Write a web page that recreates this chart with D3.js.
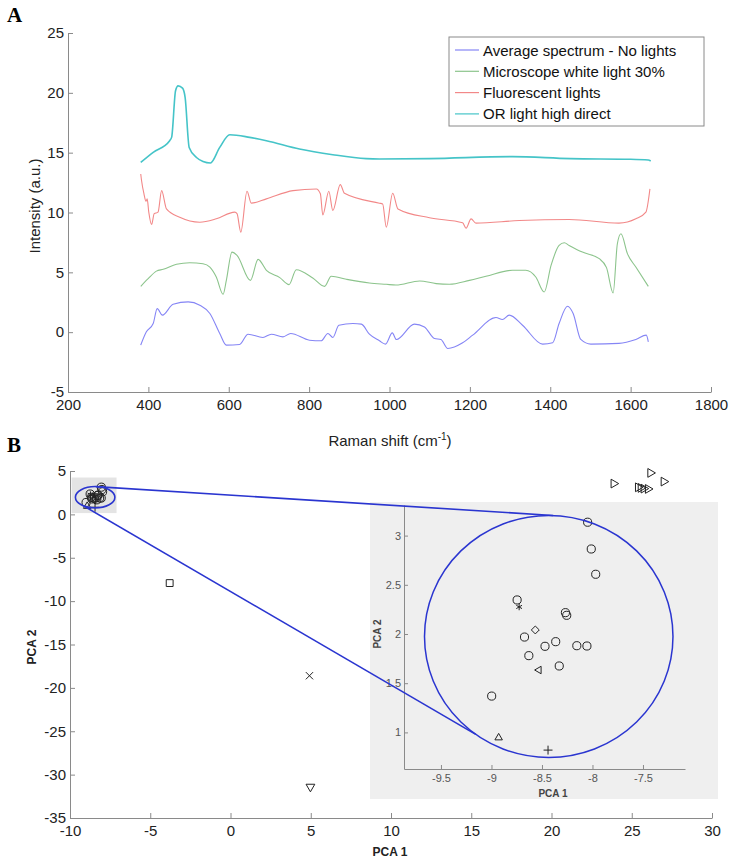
<!DOCTYPE html>
<html>
<head>
<meta charset="utf-8">
<script src="https://cdn.jsdelivr.net/npm/d3@7"></script>
<style>
  body { margin: 0; background: #fff; }
  text { font-family: "Liberation Sans", Arial, sans-serif; }
  .axis path, .axis line { stroke: #8a8a8a; }
  .axis text { fill: #222; font-size: 15px; }
  .inset-axis path, .inset-axis line { stroke: #8a8a8a; }
  .inset-axis text { fill: #555; font-size: 11px; }
</style>
</head>
<body>
<div id="chart"></div>
<script>
// spectra, [Raman shift, intensity]
const noLights = [[381,-1.08],[395,0.03],[412,0.72],[422,1.97],[435,1.42],[461.6,2.33],[499,2.53],[528,2.25],[553,1.56],[577.6,-0.11],[594,-1.08],[627,-1.03],[648,-0.17],[685,-0.44],[706,-0.17],[735,-0.39],[754,-0.11],[801,-0.67],[830,-0.72],[846.7,-0.11],[859,-0.44],[874,0.58],[909,0.72],[930,0.67],[950,-0.17],[975,-0.72],[990,-1.0],[1007,-0.06],[1017,-0.61],[1062,0.67],[1087,0.44],[1112,-0.53],[1128,-0.61],[1145,-1.36],[1182,-0.89],[1207,-0.25],[1265,1.22],[1281,1.06],[1298,1.42],[1331,0.58],[1381,-1.0],[1406,-0.89],[1422,0.72],[1443,2.17],[1457,1.56],[1476,-0.61],[1501,-1.0],[1571,-0.94],[1613,-0.61],[1639,-0.25],[1644,-0.81]]
const whiteLight30 = [[381,3.83],[399.5,4.47],[420,5.1],[437,5.25],[470,5.67],[503,5.8],[536,5.72],[553,5.44],[569,4.61],[586,3.17],[594,4.33],[608,6.69],[620.6,6.42],[654,4.33],[673,6.08],[693.7,5.17],[727,4.56],[750,3.97],[768,5.22],[809,4.53],[838.5,3.83],[855,4.67],[892.5,4.42],[950,4.11],[992,4.0],[1016,3.94],[1075,4.28],[1116,4.06],[1149,4.0],[1199,4.33],[1240,4.67],[1306,5.17],[1339,5.17],[1364,4.61],[1385,3.36],[1402,5.58],[1422,7.25],[1435,7.47],[1447,7.25],[1480,6.69],[1522,6.14],[1540,5.39],[1556.5,3.28],[1567,7.39],[1576,8.22],[1592,6.56],[1613,5.44],[1644,3.83]]
const fluorescent = [[381,13.22],[383,12.67],[389,11.56],[394,10.94],[397,11.14],[401,10.03],[408,9.0],[414.5,9.9],[424,10.03],[433,11.83],[445,10.3],[478,9.6],[528,9.19],[569,9.47],[615,10.03],[620.6,9.9],[630,8.36],[645.5,11.78],[656,10.78],[693.7,11.14],[760,11.83],[818,11.97],[828,11.56],[834,9.8],[849,11.78],[859,10.17],[877.5,12.33],[888,11.6],[975,10.78],[983,10.72],[992,8.78],[1008,11.61],[1021,10.3],[1099.5,9.56],[1182,9.14],[1190.5,8.69],[1203,9.47],[1215,9.11],[1323,9.33],[1447,9.42],[1571,9.11],[1613,9.47],[1638,10.03],[1648,11.97]]
const orLightHigh = [[381,14.19],[412,15.03],[453,16.0],[458,16.3],[467.6,20.17],[474,20.58],[485,20.39],[491.5,19.6],[501.5,15.44],[519.7,14.6],[536,14.27],[554.5,14.14],[577.6,15.44],[602.5,16.5],[652,16.28],[693.7,16.0],[776,15.3],[859,14.83],[942,14.5],[975,14.47],[1100,14.5],[1306,14.67],[1450,14.5],[1600,14.45],[1644,14.39],[1650,14.3]]

const seriesNames = ['Average spectrum - No lights', 'Microscope white light 30%', 'Fluorescent lights', 'OR light high direct']
const seriesColors = ['#8585f5', '#8cc48c', '#f28888', '#45c4c8']

const ramanTicks = [200, 400, 600, 800, 1000, 1200, 1400, 1600, 1800]
const intensityTicks = [-5, 0, 5, 10, 15, 20, 25]

// PCA scores, [PCA 1, PCA 2]
const circlePts = [[-8.048,3.136],[-8.012,2.864],[-7.968,2.607],[-8.746,2.346],[-8.268,2.217],[-8.255,2.19],[-8.673,1.969],[-8.47,1.875],[-8.364,1.922],[-8.155,1.881],[-8.055,1.878],[-8.63,1.78],[-8.329,1.675],[-8.998,1.369]]
const asteriskPts = [[-8.726,2.275]]
const diamondPts = [[-8.566,2.041]]
const leftTriPts = [[-8.53,1.634]]
const upTriPts = [[-8.929,0.946]]
const plusPts = [[-8.44,0.82]]
const squarePts = [[-3.79,-7.92]]
const crossPts = [[4.92,-18.6]]
const downTriPts = [[4.98,-31.4]]
const rightTriPts = [[23.87,3.55],[26.16,4.78],[26.99,3.78],[25.39,3.12],[25.56,3.05],[25.74,2.97],[26.01,2.93]]

const pca1Ticks = [-10, -5, 0, 5, 10, 15, 20, 25, 30]
const pca2Ticks = [-35, -30, -25, -20, -15, -10, -5, 0, 5]
const insetXTicks = [-9.5, -9, -8.5, -8, -7.5]
const insetYTicks = [1, 1.5, 2, 2.5, 3]

// zoom region and ring (data units)
const zoomBox = { x0: -9.9, x1: -7.1, y0: 0.15, y1: 4.25 }
const ring = { cx: -8.433, cy: 1.975, r: 1.23 }
const insetX = [-9.866, -7.084]
const insetY = [0.628, 3.311]

function draw() {
    const width = 734
    const height = 867
    const plain = d => String(d)

    const svg = d3.select('#chart')
        .append('svg')
        .attr('width', width)
        .attr('height', height)

    // panel letters
    svg.append('text').attr('x', 7).attr('y', 22)
        .style('font-family', '"Liberation Serif", serif').style('font-weight', 'bold').style('font-size', '21px')
        .text('A')
    svg.append('text').attr('x', 7).attr('y', 452)
        .style('font-family', '"Liberation Serif", serif').style('font-weight', 'bold').style('font-size', '21px')
        .text('B')

    // ---------------- A: spectra ----------------
    const xScale = d3.scaleLinear().domain([200, 1800]).range([68, 711])
    const yScale = d3.scaleLinear().domain([-5, 25]).range([392, 33])

    const xAxis = d3.axisBottom(xScale).tickValues(ramanTicks).tickFormat(plain)
        .tickSizeInner(-5).tickSizeOuter(0).tickPadding(7)
    svg.append('g').classed('axis', true)
        .attr('transform', `translate(0, ${yScale(-5)})`)
        .call(xAxis)

    const yAxis = d3.axisLeft(yScale).tickValues(intensityTicks).tickFormat(plain)
        .tickSizeInner(-5).tickSizeOuter(0).tickPadding(4)
    svg.append('g').classed('axis', true)
        .attr('transform', `translate(${xScale(200)}, 0)`)
        .call(yAxis)

    const line = d3.line()
        .x(d => xScale(d[0]))
        .y(d => yScale(d[1]))
        .curve(d3.curveMonotoneX)

    const spectra = [noLights, whiteLight30, fluorescent, orLightHigh]
    spectra.forEach((s, i) => {
        svg.append('path')
            .datum(s)
            .attr('d', line)
            .attr('fill', 'none')
            .attr('stroke', seriesColors[i])
            .attr('stroke-width', i === 3 ? 1.6 : 1.1)
    })

    const xLabel = svg.append('text')
        .attr('x', 390).attr('y', 446)
        .attr('text-anchor', 'middle')
        .style('font-size', '15px').attr('fill', '#222')
    xLabel.append('tspan').text('Raman shift (cm')
    xLabel.append('tspan').attr('dy', -6).style('font-size', '10px').text('-1')
    xLabel.append('tspan').attr('dy', 6).text(')')

    svg.append('text')
        .attr('transform', 'translate(40, 206) rotate(-90)')
        .attr('text-anchor', 'middle')
        .style('font-size', '15px').attr('fill', '#222')
        .text('Intensity (a.u.)')

    // legend
    const legend = svg.append('g')
    legend.append('rect')
        .attr('x', 449).attr('y', 37).attr('width', 255).attr('height', 89)
        .attr('fill', '#fff').attr('stroke', '#8a8a8a')
    seriesNames.forEach((name, i) => {
        const y = 50 + i * 21.3
        legend.append('line')
            .attr('x1', 455).attr('x2', 479).attr('y1', y).attr('y2', y)
            .attr('stroke', seriesColors[i]).attr('stroke-width', 1.2)
        legend.append('text')
            .attr('x', 483).attr('y', y + 5.5)
            .style('font-size', '15px').attr('fill', '#111')
            .text(name)
    })

    // ---------------- B: PCA ----------------
    const px = d3.scaleLinear().domain([-10, 30]).range([70, 712])
    const py = d3.scaleLinear().domain([-35, 5]).range([818, 471])

    svg.append('rect')
        .attr('x', px(zoomBox.x0)).attr('y', py(zoomBox.y1))
        .attr('width', px(zoomBox.x1) - px(zoomBox.x0))
        .attr('height', py(zoomBox.y0) - py(zoomBox.y1))
        .attr('fill', '#e4e4e4')

    svg.append('g').classed('axis', true)
        .attr('transform', `translate(0, ${py(-35)})`)
        .call(d3.axisBottom(px).tickValues(pca1Ticks).tickFormat(plain).tickSizeInner(-5).tickSizeOuter(0).tickPadding(7))
    svg.append('g').classed('axis', true)
        .attr('transform', `translate(${px(-10)}, 0)`)
        .call(d3.axisLeft(py).tickValues(pca2Ticks).tickFormat(plain).tickSizeInner(-5).tickSizeOuter(0).tickPadding(4))

    svg.append('text')
        .attr('x', 390).attr('y', 856).attr('text-anchor', 'middle')
        .style('font-size', '12px').style('font-weight', 'bold').attr('fill', '#222')
        .text('PCA 1')
    svg.append('text')
        .attr('transform', 'translate(36, 647) rotate(-90)').attr('text-anchor', 'middle')
        .style('font-size', '12px').style('font-weight', 'bold').attr('fill', '#222')
        .text('PCA 2')

    const tri = d3.symbolTriangle2 || d3.symbolTriangle
    const markerSets = [
        { pts: circlePts, type: d3.symbolCircle, size: 52, rot: 0 },
        { pts: asteriskPts, type: d3.symbolAsterisk || d3.symbolCross, size: 30, rot: 0 },
        { pts: diamondPts, type: d3.symbolDiamond2 || d3.symbolDiamond, size: 40, rot: 0 },
        { pts: leftTriPts, type: tri, size: 40, rot: -90 },
        { pts: upTriPts, type: tri, size: 40, rot: 0 },
        { pts: plusPts, type: d3.symbolPlus || d3.symbolCross, size: 28, rot: 0 },
        { pts: squarePts, type: d3.symbolSquare2 || d3.symbolSquare, size: 60, rot: 0 },
        { pts: crossPts, type: d3.symbolTimes || d3.symbolCross, size: 36, rot: 0 },
        { pts: downTriPts, type: tri, size: 55, rot: 180 },
        { pts: rightTriPts, type: tri, size: 55, rot: 90 }
    ]

    function drawMarkers(g, sx, sy) {
        markerSets.forEach(m => {
            g.selectAll(null)
                .data(m.pts)
                .join('path')
                .attr('d', d3.symbol().type(m.type).size(m.size))
                .attr('transform', d => `translate(${sx(d[0])}, ${sy(d[1])}) rotate(${m.rot})`)
                .attr('fill', 'none')
                .attr('stroke', '#222')
                .attr('stroke-width', 1)
        })
    }

    drawMarkers(svg.append('g'), px, py)

    const blue = '#2a35d0'
    svg.append('ellipse')
        .attr('cx', px(ring.cx)).attr('cy', py(ring.cy))
        .attr('rx', px(ring.cx + ring.r) - px(ring.cx))
        .attr('ry', py(ring.cy - ring.r) - py(ring.cy))
        .attr('fill', 'none').attr('stroke', blue).attr('stroke-width', 1.6)

    // inset
    const ix = d3.scaleLinear().domain(insetX).range([404, 685])
    const iy = d3.scaleLinear().domain(insetY).range([769, 505])

    svg.append('rect')
        .attr('x', 370).attr('y', 502).attr('width', 348).attr('height', 297)
        .attr('fill', '#efefef')

    svg.append('g').classed('inset-axis', true)
        .attr('transform', `translate(0, ${iy(insetY[0])})`)
        .call(d3.axisBottom(ix).tickValues(insetXTicks).tickFormat(plain).tickSizeInner(-4).tickSizeOuter(0).tickPadding(5))
    svg.append('g').classed('inset-axis', true)
        .attr('transform', `translate(${ix(insetX[0])}, 0)`)
        .call(d3.axisLeft(iy).tickValues(insetYTicks).tickFormat(plain).tickSizeInner(-4).tickSizeOuter(0).tickPadding(3))

    svg.append('text')
        .attr('x', 553).attr('y', 797).attr('text-anchor', 'middle')
        .style('font-size', '10px').style('font-weight', 'bold').attr('fill', '#444')
        .text('PCA 1')
    svg.append('text')
        .attr('transform', 'translate(381, 634) rotate(-90)').attr('text-anchor', 'middle')
        .style('font-size', '10px').style('font-weight', 'bold').attr('fill', '#444')
        .text('PCA 2')

    drawMarkers(svg.append('g'), ix, iy)

    svg.append('ellipse')
        .attr('cx', ix(ring.cx)).attr('cy', iy(ring.cy))
        .attr('rx', ix(ring.cx + ring.r) - ix(ring.cx))
        .attr('ry', iy(ring.cy - ring.r) - iy(ring.cy))
        .attr('fill', 'none').attr('stroke', blue).attr('stroke-width', 1.5)

    // connectors between the two rings
    const ringPoint = (sx, sy, deg) => {
        const a = deg * Math.PI / 180
        return [sx(ring.cx + ring.r * Math.cos(a)), sy(ring.cy + ring.r * Math.sin(a))]
    }
    ;[88, 234].forEach(deg => {
        const a = ringPoint(px, py, deg)
        const b = ringPoint(ix, iy, deg)
        svg.append('line')
            .attr('x1', a[0]).attr('y1', a[1]).attr('x2', b[0]).attr('y2', b[1])
            .attr('stroke', blue).attr('stroke-width', 1.6)
    })
}

draw()
</script>
</body>
</html>
